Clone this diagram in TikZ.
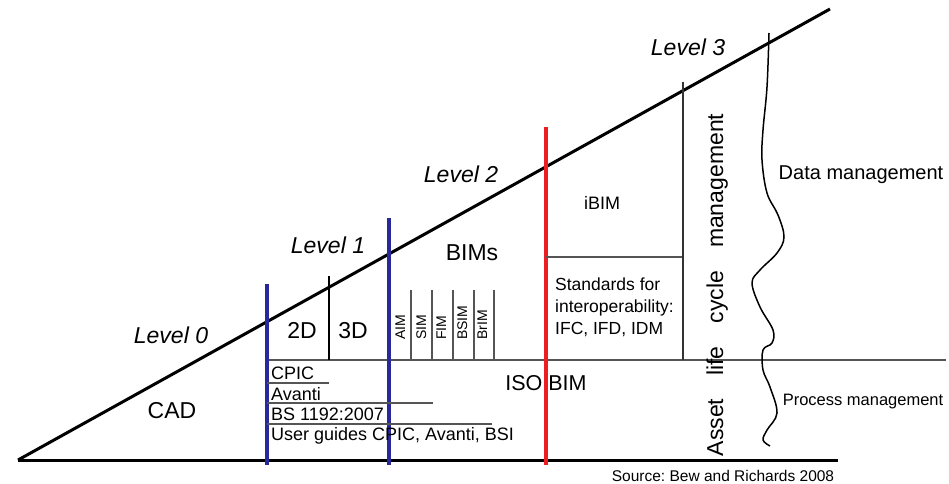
\documentclass[tikz,border=0pt]{standalone}
\usepackage{fontspec}
\setmainfont{Liberation Sans}
\usetikzlibrary{positioning}
\definecolor{lineBlue}{RGB}{40, 40, 155}
\definecolor{lineRed}{RGB}{235, 30, 35}
\definecolor{lineGrey}{RGB}{85, 85, 85}
\frenchspacing

\begin{document}
\begin{tikzpicture}[x=1pt, y=-1pt,
    lvltxt/.style={font=\fontsize{23}{26}\selectfont\itshape, inner sep=0pt, anchor=base},
    bigtxt/.style={font=\fontsize{23}{26}\selectfont, inner sep=0pt, anchor=base},
    stdtxt/.style={font=\fontsize{18}{22}\selectfont, inner sep=0pt, anchor=base west},
    bimtxt/.style={font=\fontsize{14}{16}\selectfont, inner sep=0pt, rotate=90, anchor=base west},
    wedge/.style={line width=3pt, black},
    divider/.style={line width=2pt, lineGrey},
    thin/.style={line width=1.5pt, black},
    boundary/.style={line width=3.5pt}
]
\useasboundingbox (0,0) rectangle (949,483);

% outer wedge
\coordinate (apex) at (18,460);
\coordinate (tip) at (830,9);
\coordinate (baseend) at (838,460);
\draw[wedge] (apex) -- (tip);
\draw[wedge] (apex) -- (baseend);
\draw[divider] (267,360) -- (946,360);

% level boundaries
\draw[boundary, lineBlue] (267,284) -- (267,465);
\draw[boundary, lineBlue] (389,218) -- (389,465);
\draw[boundary, lineRed] (546,127) -- (546,465);

% inner dividers
\draw[thin] (329,276) -- (329,360);
\foreach \x in {411, 432, 453, 474, 494}
    \draw[divider] (\x,290) -- (\x,360);
\draw[divider] (546,257) -- (683,257);
\draw[divider, black!80] (683,82) -- (683,360);
\draw[divider] (267,383) -- (329,383);
\draw[divider] (267,403) -- (433,403);
\draw[divider] (267,424) -- (492,424);

% data / process split
\draw[thin, line join=round] plot[smooth, tension=0.6] coordinates {
    (769,33) (767,87) (763,130) (762,160) (767,193) (778,215) (784,237)
    (777,253) (760,270) (752,283) (760,307) (773,330) (772,343) (763,350)
    (763,370) (770,387) (777,413) (767,430) (763,440) (770,446)};

% labels
\node[lvltxt] (lvl0) at (171,343) {Level 0};
\node[lvltxt] (lvl1) at (328,253) {Level 1};
\node[lvltxt] (lvl2) at (461,182) {Level 2};
\node[lvltxt] (lvl3) at (688,55)  {Level 3};

\node[bigtxt] (cad)    at (172,418) {CAD};
\node[bigtxt] (twoD)   at (302,338) {2D};
\node[bigtxt] (threeD) at (353,338) {3D};
\node[bigtxt] (bims)   at (472,260) {BIMs};
\node[bigtxt, font=\fontsize{21.5}{24}\selectfont] (isobim) at (546,390) {ISO BIM};

\node[bimtxt] (aim)  at (405,340) {AIM};
\node[bimtxt] (sim)  at (426,340) {SIM};
\node[bimtxt] (fim)  at (446,340) {FIM};
\node[bimtxt] (bsim) at (467,340) {BSIM};
\node[bimtxt] (brim) at (487,340) {BrIM};

\node[stdtxt] (cpic)   at (271,379) {CPIC};
\node[stdtxt] (avanti) at (271,400) {Avanti};
\node[stdtxt] (bs)     at (271,420) {BS 1192:2007};
\node[stdtxt] (guides) at (271,440) {User guides CPIC, Avanti, BSI};

\node[bigtxt, font=\fontsize{18}{22}\selectfont] (ibim) at (602,209) {iBIM};
\node[font=\fontsize{17.5}{22}\selectfont, inner sep=0pt, anchor=north west, align=left]
    (interop) at (555,278) {Standards for\\interoperability:\\IFC, IFD, IDM};

\node[bigtxt, rotate=90] (alcm) at (723,285) {Asset\quad life\quad cycle\quad management};
\node[bigtxt, font=\fontsize{20}{24}\selectfont] (datamgmt) at (861,179) {Data management};
\node[bigtxt, font=\fontsize{16.5}{20}\selectfont] (procmgmt) at (863,405) {Process management};
\node[bigtxt, font=\fontsize{15.5}{18}\selectfont] (source) at (723,481) {Source: Bew and Richards 2008};
\end{tikzpicture}
\end{document}
